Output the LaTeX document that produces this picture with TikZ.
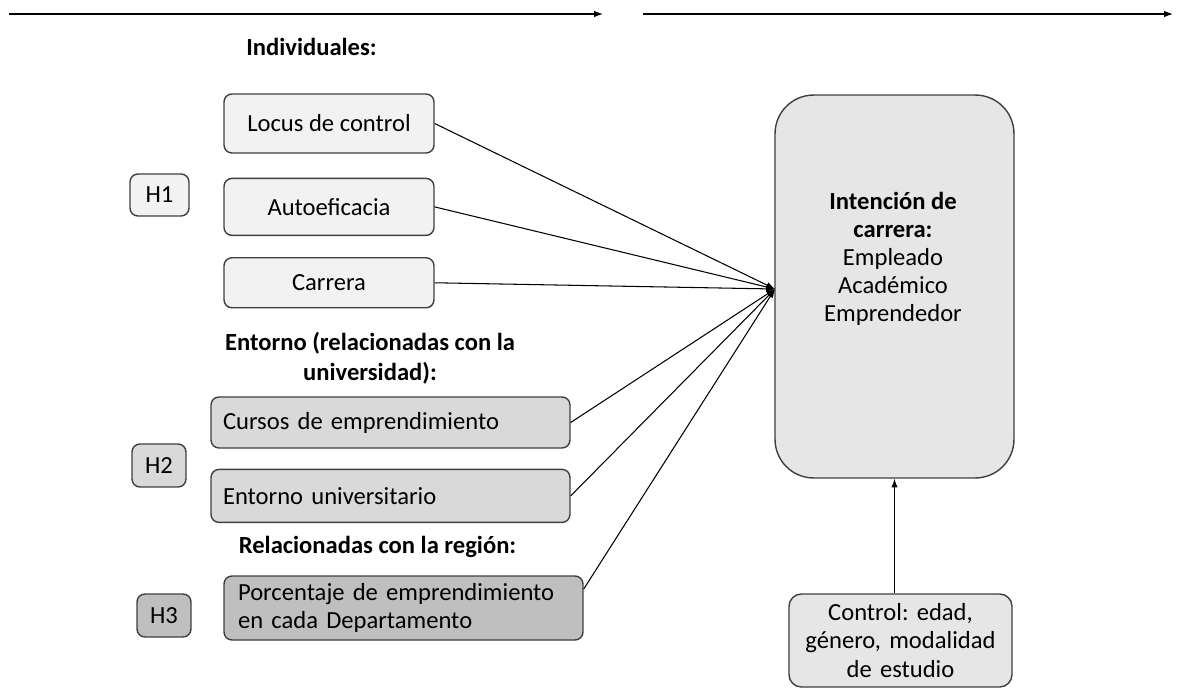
\documentclass[tikz,border=0pt]{standalone}
\usepackage{fontspec}
\setmainfont{Carlito}
\usetikzlibrary{arrows.meta}
\usetikzlibrary{positioning}
\frenchspacing

\definecolor{boxline}{HTML}{3F3F3F}
\definecolor{fillind}{HTML}{F2F2F2}
\definecolor{filluni}{HTML}{D9D9D9}
\definecolor{fillreg}{HTML}{BFBFBF}
\definecolor{fillout}{HTML}{E6E6E6}

\begin{document}
\begin{tikzpicture}[x=0.02cm, y=-0.02cm, >={Latex[length=5pt,width=3.6pt]},
    var/.style={draw=boxline, line width=0.8pt, rounded corners=4.5pt, fill=fillind,
        inner sep=0pt, align=center, font=\fontsize{14}{16}\selectfont},
    hyp/.style={var, minimum width=1.08cm, minimum height=0.86cm},
    head/.style={align=center, font=\fontsize{14}{17}\selectfont\bfseries},
    link/.style={->, line width=0.6pt}]
        \useasboundingbox (0,0) rectangle (1204,700);

        % time axis
        \coordinate (ax1-s) at (9,14);
        \coordinate (ax1-e) at (603,14);
        \coordinate (ax2-s) at (643,14);
        \coordinate (ax2-e) at (1173,14);
        \path[link] (ax1-s) edge (ax1-e);
        \path[link] (ax2-s) edge (ax2-e);

        % individual variables
        \node[head] (ind-head) at (311.5,47) {Individuales:};
        \node[var, minimum width=4.2cm, minimum height=1.18cm] (locus) at (329,123.5) {Locus de control};
        \node[var, minimum width=4.2cm, minimum height=1.14cm, below=0.48cm of locus] (autoef) {Autoeficacia};
        \node[var, minimum width=4.2cm, minimum height=1.0cm, below=0.42cm of autoef] (carrera) {Carrera};
        \node[hyp, minimum width=1.18cm, minimum height=0.84cm] (h1) at (159.5,195) {H1};

        % university variables
        \node[head] (uni-head) at (370,358) {Entorno (relacionadas con la\\universidad):};
        \node[var, fill=filluni, minimum width=7.18cm, minimum height=1.02cm, text width=6.7cm, align=left] (cursos) at (390.5,422.5) {Cursos de emprendimiento};
        \node[var, fill=filluni, minimum width=7.18cm, minimum height=1.06cm, text width=6.7cm, align=left, below=0.4cm of cursos] (entuni) {Entorno universitario};
        \node[hyp, fill=filluni] (h2) at (159,465.5) {H2};

        % regional variables
        \node[head] (reg-head) at (377.5,547) {Relacionadas con la región:};
        \node[var, fill=fillreg, minimum width=7.18cm, minimum height=1.28cm, text width=6.62cm, align=left] (porc) at (403.5,608) {Porcentaje de emprendimiento\\en cada Departamento};
        \node[hyp, fill=fillreg] (h3) at (164,615.5) {H3};

        % outcome and controls
        \node[var, fill=fillout, rounded corners=22pt, minimum width=4.78cm, minimum height=7.66cm] (intent) at (894.5,286.5) {};
        \node[align=center, font=\fontsize{14}{16}\selectfont] (intent-txt) at (893,259) {\textbf{Intención de}\\\textbf{carrera:}\\Empleado\\Académico\\Emprendedor};
        \node[var, fill=fillout, rounded corners=7pt, minimum width=4.46cm, minimum height=1.86cm, text width=4.3cm] (control) at (900.5,640.5) {Control: edad,\\género, modalidad\\de estudio};

        \coordinate (hub) at (775,289);
        \foreach \v in {locus, autoef, carrera, cursos, entuni}
            \path[link] (\v.east) edge (hub);
        \path[link] (porc.6) edge (hub);
        \path[link] (control.north -| intent.south) edge (intent.south);
\end{tikzpicture}
\end{document}
